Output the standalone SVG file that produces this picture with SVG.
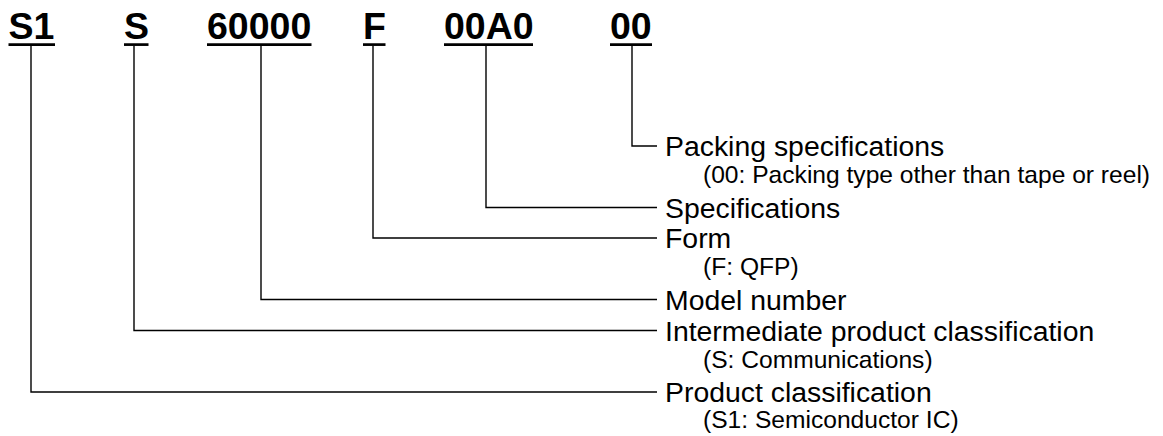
<svg xmlns="http://www.w3.org/2000/svg" width="1163" height="436" viewBox="0 0 1163 436">
<style>
.code{font-family:"Liberation Sans",Arial,sans-serif;font-weight:bold;font-size:37.5px;fill:#000}
.lbl{font-family:"Liberation Sans",Arial,sans-serif;font-size:28.4px;fill:#000}
.sub{font-family:"Liberation Sans",Arial,sans-serif;font-size:24.6px;fill:#000}
.ul{stroke:#000;stroke-width:2.7;fill:none}
.con{stroke:#000;stroke-width:1.4;fill:none}
</style>
<rect width="1163" height="436" fill="#fff"/>
<g id="code-S1">
<text class="code" x="8.5" y="39">S1</text>
<line class="ul" x1="8.5" y1="44.6" x2="55" y2="44.6"/>
</g>
<g id="code-S">
<text class="code" x="124" y="39">S</text>
<line class="ul" x1="124" y1="44.6" x2="148.5" y2="44.6"/>
</g>
<g id="code-60000">
<text class="code" x="207" y="39">60000</text>
<line class="ul" x1="207" y1="44.6" x2="311.5" y2="44.6"/>
</g>
<g id="code-F">
<text class="code" x="363" y="39">F</text>
<line class="ul" x1="363" y1="44.6" x2="385.5" y2="44.6"/>
</g>
<g id="code-00A0">
<text class="code" x="444" y="39">00A0</text>
<line class="ul" x1="444" y1="44.6" x2="533" y2="44.6"/>
</g>
<g id="code-00">
<text class="code" x="610" y="39">00</text>
<line class="ul" x1="610" y1="44.6" x2="652" y2="44.6"/>
</g>
<g id="connectors">
<polyline class="con" points="632,45.5 632,146 657,146"/>
<polyline class="con" points="486,45.5 486,207.5 657,207.5"/>
<polyline class="con" points="373,45.5 373,238 657,238"/>
<polyline class="con" points="261,45.5 261,299.5 657,299.5"/>
<polyline class="con" points="134,45.5 134,330.5 657,330.5"/>
<polyline class="con" points="31,45.5 31,392 657,392"/>
</g>
<g id="label-packing">
<text class="lbl" x="665" y="156.2">Packing specifications</text>
<text class="sub" x="703" y="183">(00: Packing type other than tape or reel)</text>
</g>
<g id="label-specifications">
<text class="lbl" x="665" y="217.7">Specifications</text>
</g>
<g id="label-form">
<text class="lbl" x="665" y="248.2">Form</text>
<text class="sub" x="703" y="275">(F: QFP)</text>
</g>
<g id="label-model">
<text class="lbl" x="665" y="309.7">Model number</text>
</g>
<g id="label-intermediate">
<text class="lbl" x="665" y="340.7">Intermediate product classification</text>
<text class="sub" x="703" y="367.5">(S: Communications)</text>
</g>
<g id="label-product">
<text class="lbl" x="665" y="402.2">Product classification</text>
<text class="sub" x="703" y="428">(S1: Semiconductor IC)</text>
</g>
</svg>
